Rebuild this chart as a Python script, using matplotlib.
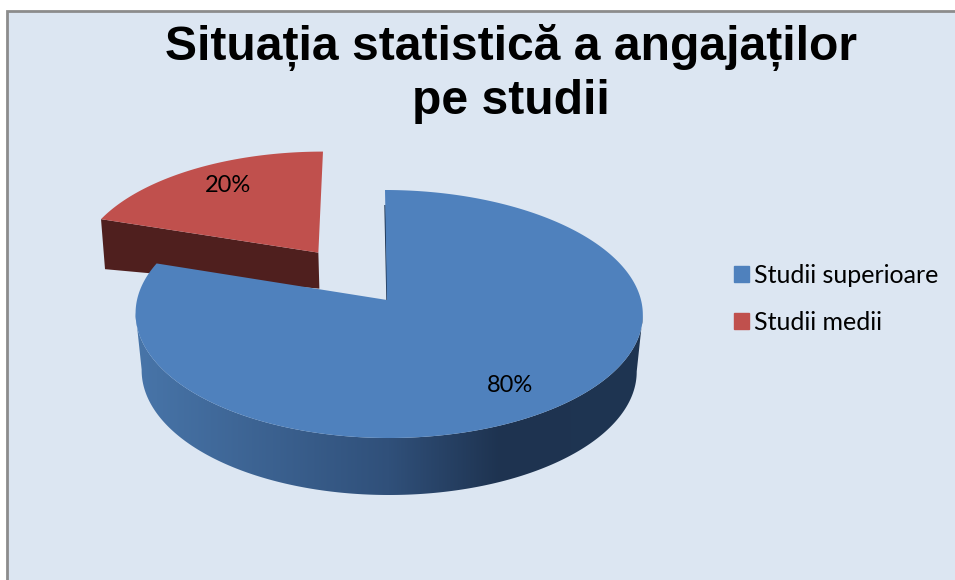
import numpy as np
import matplotlib
matplotlib.use("Agg")
import matplotlib.pyplot as plt
from matplotlib.colors import LinearSegmentedColormap
from matplotlib.patches import Patch, Polygon, Rectangle

# data
categories = ["Studii superioare", "Studii medii"]
shares = [80, 20]
share_labels = ["80%", "20%"]
title = "Situația statistică a angajaților\npe studii"

BG = "#dce6f2"
BLUE = "#4f81bd"
RED = "#c0504d"
RED_DARK = "#4f1f1e"

# 3d look: unit pie seen in perspective, mapped to figure pixels
APEX_X, APEX_Y = 387.0, 300.0
RADIUS_X = 252.0
PERSP = 0.1129
SQUASH = -88.55


def project(u, v):
    u, v = np.asarray(u), np.asarray(v)
    w = 1 + PERSP * v
    # small skew terms, the original view is not quite centred
    return APEX_X + RADIUS_X * u / w + 2 * u ** 2 - 2 * v, (APEX_Y + SQUASH * v) / w


def rim(start, sweep, offset=(0.0, 0.0)):
    theta = np.radians(np.linspace(start, start - sweep, 400))
    return project(offset[0] + np.cos(theta), offset[1] + np.sin(theta))


sweeps = [360.0 * s / sum(shares) for s in shares]

fig = plt.figure(figsize=(9.55, 5.8), dpi=100, facecolor="white")
ax = fig.add_axes([0, 0, 1, 1])
ax.axis("off")

ax.add_patch(Rectangle((7, 11), 1000, 620, facecolor=BG, edgecolor="#8c8c8c", lw=2, zorder=-3))

# red slice, pulled out along its middle angle
red_start = 90 + sweeps[1]
mid = np.radians(90 + sweeps[1] / 2)
offset = (0.48 * np.cos(mid), 0.5 * np.sin(mid))
red_x, red_y = rim(red_start, sweeps[1], offset)
red_apex = project(*offset)

ax.add_patch(Polygon([(red_x[0], red_y[0]), red_apex,
                      (red_apex[0] + 1, red_apex[1] + 36),
                      (red_x[0] + 4, red_y[0] + 50)],
                     facecolor=RED_DARK, edgecolor="none", zorder=-2))
ax.add_patch(Polygon(np.r_[[red_apex], np.c_[red_x, red_y]], facecolor=RED,
                     edgecolor="none", zorder=-2))

# blue slice side with its gradient
blue_x, blue_y = rim(90, sweeps[0])
i_right, i_left = blue_x.argmax(), blue_x.argmin()
front_x, front_y = blue_x[i_right:i_left + 1], blue_y[i_right:i_left + 1]
low_x = 388 + 0.976 * (front_x - 388)
low_y = front_y + 57
side = Polygon(np.c_[np.r_[front_x, low_x[::-1]], np.r_[front_y, low_y[::-1]]],
               facecolor="none", edgecolor="none", zorder=-1)
ax.add_patch(side)
shade = LinearSegmentedColormap.from_list(
    "side", [(0, "#4875a9"), (0.5, "#30507a"), (0.72, "#1e3350"), (1, "#1f3552")])
img = ax.imshow(np.linspace(0, 1, 256)[None, :], cmap=shade, aspect="auto",
                extent=(135, 642, 500, 300), zorder=0)
img.set_clip_path(side)

ax.plot([385, 387], [205, 300], color="#1f3552", lw=1, solid_capstyle="butt", zorder=0.5)
ax.add_patch(Polygon(np.r_[[project(0, 0)], np.c_[blue_x, blue_y]], facecolor=BLUE,
                     edgecolor="none", zorder=1))

ax.text(510, 385, share_labels[0], family="Lato", fontsize=17, ha="center", va="center",
        color="black")
ax.text(228, 185, share_labels[1], family="Lato", fontsize=17, ha="center", va="center",
        color="black")

ax.text(511, 74, title, family="Liberation Sans", weight="bold", fontsize=34.6, ha="center",
        va="center", linespacing=1.22, color="black")

handles = [Patch(color=BLUE), Patch(color=RED)]
ax.legend(handles, categories, loc="center left", bbox_to_anchor=(734 / 955, 1 - 299 / 580),
          frameon=False, prop={"family": "Lato", "size": 18}, handlelength=0.6,
          handleheight=0.6, handletextpad=0.2, labelspacing=0.95, borderpad=0, borderaxespad=0)

ax.set_xlim(0, 955)
ax.set_ylim(580, 0)
fig.savefig("out.png", dpi=100, facecolor="white")
